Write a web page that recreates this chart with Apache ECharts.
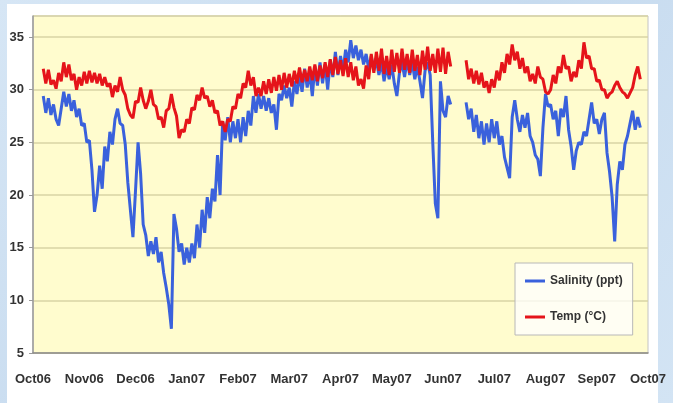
<!DOCTYPE html>
<html>
<head>
<meta charset="utf-8">
<script src="https://cdn.jsdelivr.net/npm/echarts@6/dist/echarts.min.js"></script>
<style>
  html, body { margin: 0; padding: 0; width: 673px; height: 403px; overflow: hidden; }
  body { background: linear-gradient(135deg, #d6e6f5 0%, #c7dbef 50%, #d3e4f4 100%); position: relative; }
  #paper { position: absolute; left: 7px; top: 4px; width: 651px; height: 399px; background: #fff; }
  #chart { position: absolute; left: 7px; top: 4px; width: 666px; height: 399px; }
</style>
</head>
<body>
<div id="paper"></div>
<div id="chart"></div>
<script>
// month tick labels, Oct06 .. Oct07
const monthLabels = ["Oct06", "Nov06", "Dec06", "Jan07", "Feb07", "Mar07", "Apr07",
  "May07", "Jun07", "Jul07", "Aug07", "Sep07", "Oct07"];

// readings every 0.05 month (~1.5 days), index 0 = 1 Oct 2006
const step = 0.05;

const salinity = [
  null, null, null, null, 29.4, 27.8, 29.2, 27.6, 28.6, 27.2,
  26.6, 28.2, 29.8, 28.4, 29.6, 28.0, 29.0, 27.4, 28.2, 26.6,
  26.8, 25.0, 25.2, 22.4, 18.4, 20.0, 22.8, 20.6, 24.6, 23.2,
  26.0, 24.8, 27.2, 28.2, 26.8, 26.6, 24.8, 21.2, 18.6, 16.0,
  20.4, 25.0, 22.0, 17.2, 16.2, 14.2, 15.6, 14.4, 16.0, 13.6,
  14.6, 12.6, 11.2, 9.6, 7.3, 18.2, 16.8, 14.6, 15.4, 13.4,
  15.0, 13.6, 15.4, 14.0, 17.2, 15.0, 18.6, 16.4, 19.8, 17.8,
  20.6, 19.4, 23.8, 20.0, 27.0, 25.2, 27.4, 25.0, 27.0, 25.4,
  27.2, 25.0, 27.4, 25.6, 28.0, 26.6, 29.4, 27.8, 29.6, 28.2,
  29.4, 28.0, 29.2, 27.8, 28.6, 26.2, 29.6, 29.0, 30.4, 29.2,
  30.2, 28.4, 30.8, 29.6, 31.4, 29.8, 32.0, 30.2, 31.6, 29.4,
  32.2, 30.4, 32.6, 30.6, 32.4, 30.0, 32.8, 31.2, 33.6, 31.4,
  33.2, 31.8, 33.8, 32.6, 34.7, 33.0, 34.2, 32.8, 33.8, 32.4,
  33.4, 32.0, 33.2, 31.8, 32.8, 31.4, 32.6, 30.8, 32.2, 31.0,
  32.4, 30.6, 29.4, 31.6, 32.6, 31.2, 32.8, 31.4, 32.6, 31.0,
  32.2, 30.8, 29.2, 31.8, 32.6, 31.4, 25.0, 19.2, 17.8, 30.8,
  28.0, 27.4, 29.4, 28.6, null, null, null, null, null, 28.8,
  27.2, 28.2, 26.0, 27.6, 25.4, 27.0, 24.8, 26.8, 25.0, 27.2,
  25.4, 27.0, 24.8, 25.6, 23.6, 22.6, 21.6, 27.4, 29.0, 27.2,
  26.0, 27.6, 26.4, 27.8, 25.6, 25.0, 23.8, 23.4, 21.8, 26.4,
  29.6, 28.4, 28.6, 27.2, 28.0, 25.6, 28.2, 27.4, 29.4, 26.2,
  24.6, 22.4, 24.2, 25.0, 24.8, 26.0, 25.6, 27.2, 28.8, 26.8,
  27.2, 25.8, 27.2, 27.8, 24.0, 22.2, 19.8, 15.6, 21.0, 23.2,
  22.4, 24.8, 25.6, 26.8, 28.0, 26.2, 27.4, 26.4
];

const temp = [
  null, null, null, null, 32.0, 30.6, 31.9, 30.5, 30.9, 30.1,
  31.6, 30.8, 32.6, 31.2, 32.4, 30.9, 31.5, 30.0, 31.2, 30.4,
  31.7, 30.6, 31.8, 30.7, 31.6, 30.6, 31.5, 30.4, 31.2, 30.3,
  30.6, 29.3, 30.4, 29.8, 31.2, 30.0, 29.5, 28.2, 27.6, 27.3,
  28.9, 28.8, 30.2, 29.0, 28.2, 28.9, 30.0, 28.6, 28.4, 27.2,
  27.4, 26.4, 28.0, 28.2, 29.6, 28.3, 27.5, 25.4, 26.2, 26.0,
  27.2, 26.8, 28.3, 28.1, 29.5, 29.0, 30.2, 29.2, 29.4, 28.4,
  29.0, 27.8, 28.0, 26.6, 27.0, 26.0, 27.2, 27.0, 28.4, 28.2,
  29.6, 29.2, 30.6, 30.2, 31.8, 30.4, 31.2, 29.4, 30.2, 29.4,
  30.8, 29.6, 31.0, 29.7, 31.2, 29.9, 31.4, 30.0, 31.6, 30.2,
  31.5, 30.3, 31.8, 30.6, 32.1, 30.7, 31.9, 30.8, 32.2, 30.9,
  32.4, 30.8, 32.3, 31.1, 32.6, 31.2, 32.9, 31.4, 33.1, 31.5,
  32.8, 31.3, 33.0, 31.2, 32.6, 30.9, 32.2, 30.4, 31.0, 30.1,
  32.3, 31.0, 33.4, 31.6, 33.6, 31.8, 33.9, 31.5, 33.2, 31.4,
  33.8, 31.7, 33.5, 31.6, 33.9, 31.9, 33.4, 31.6, 33.8, 31.8,
  33.3, 31.4, 33.7, 31.9, 34.1, 31.8, 33.4, 31.6, 33.9, 31.7,
  34.0, 31.5, 33.6, 32.2, null, null, null, null, null, 32.8,
  31.0, 32.0, 30.6, 31.8, 30.5, 31.6, 30.2, 30.8, 29.7, 31.0,
  30.2, 31.8, 30.9, 32.6, 31.6, 33.4, 32.4, 34.3, 32.8, 33.6,
  32.0, 33.0, 31.6, 32.2, 30.8, 31.5, 30.6, 32.2, 31.2, 31.0,
  29.8, 29.6, 30.0, 31.4, 30.6, 32.2, 31.6, 33.3, 32.0, 32.2,
  30.8, 31.7, 31.2, 32.8, 32.0, 34.5, 33.0, 33.2, 32.0, 32.0,
  30.8, 30.9, 30.0, 30.0, 29.2, 29.6, 29.8, 30.4, 30.8, 30.2,
  29.8, 29.6, 29.2, 29.7, 30.2, 31.4, 32.2, 31.0
];

const font = "'Liberation Sans', Arial, sans-serif";
const chart = echarts.init(document.getElementById("chart"));

const toXY = (arr) => arr.map((v, i) => [i * step, v]);

chart.setOption({
  animation: false,
  grid: {
    left: 26, right: 25, top: 12, bottom: 50,
    outerBoundsMode: "none",
    show: true,
    backgroundColor: "#fffcce",
    borderColor: "#c4c4c4",
    borderWidth: 1,
  },
  legend: {
    orient: "vertical",
    left: 508,
    top: 259,
    padding: [12, 10, 12, 10],
    itemGap: 24,
    itemWidth: 20,
    itemHeight: 3,
    icon: "rect",
    backgroundColor: "rgba(255,255,255,0.75)",
    borderColor: "#b8b8b8",
    borderWidth: 1,
    textStyle: { fontFamily: font, fontSize: 12, fontWeight: "bold", color: "#333" },
    data: ["Salinity (ppt)", "Temp (°C)"],
  },
  xAxis: {
    type: "value",
    min: 0,
    max: 12,
    interval: 1,
    axisLine: { lineStyle: { color: "#8a8a8a", width: 1.5 } },
    axisTick: { show: false },
    splitLine: { show: false },
    axisLabel: {
      margin: 20,
      fontFamily: font,
      fontSize: 13,
      fontWeight: "bold",
      color: "#333",
      formatter: (v) => monthLabels[Math.round(v)],
    },
  },
  yAxis: {
    type: "value",
    min: 5,
    max: 37,
    interval: 5,
    axisLine: { show: true, lineStyle: { color: "#9a9a9a", width: 1.5 } },
    axisTick: { show: true, length: 4, lineStyle: { color: "#9a9a9a" } },
    splitLine: { lineStyle: { color: "#d9d4a4", width: 1.5 } },
    axisLabel: {
      margin: 9,
      showMaxLabel: false,
      fontFamily: font,
      fontSize: 13,
      fontWeight: "bold",
      color: "#333",
    },
  },
  series: [
    {
      name: "Salinity (ppt)",
      type: "line",
      data: toXY(salinity),
      showSymbol: false,
      connectNulls: false,
      color: "#3a61dc",
      lineStyle: { width: 3 },
    },
    {
      name: "Temp (°C)",
      type: "line",
      data: toXY(temp),
      showSymbol: false,
      connectNulls: false,
      color: "#e5141a",
      lineStyle: { width: 3 },
    },
  ],
});
</script>
</body>
</html>
